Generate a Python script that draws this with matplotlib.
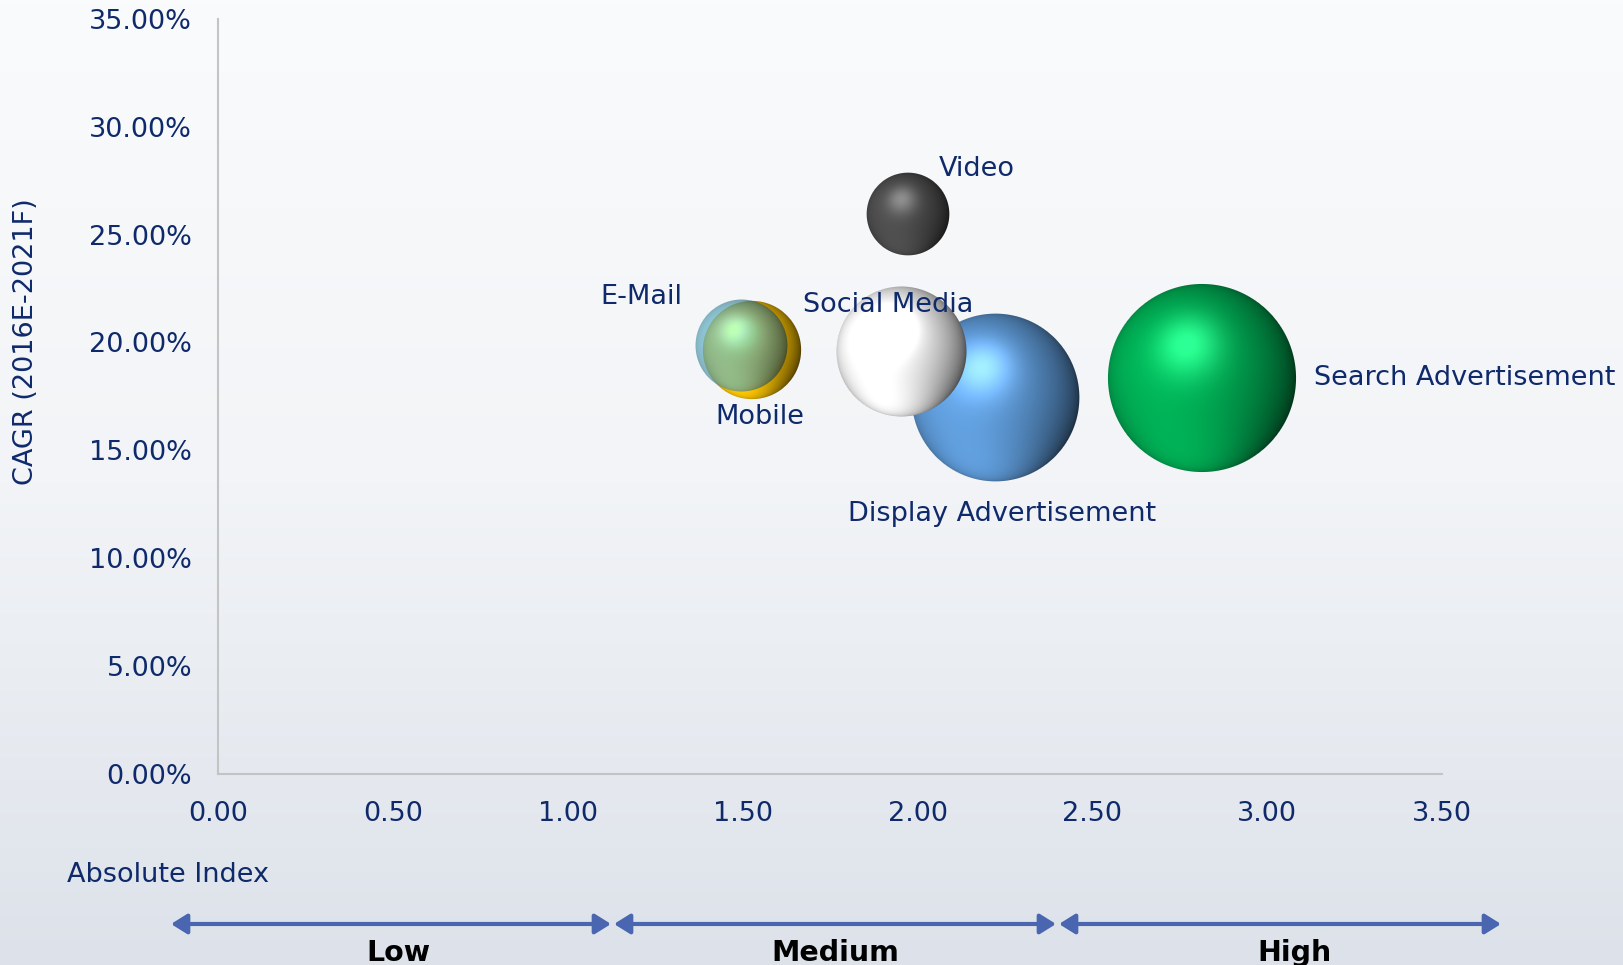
import numpy as np
import matplotlib
matplotlib.use('Agg')
import matplotlib.pyplot as plt
from matplotlib.patches import FancyArrowPatch
from matplotlib.offsetbox import OffsetImage, AnnotationBbox
from matplotlib.colors import to_rgb, LinearSegmentedColormap
from matplotlib.ticker import FuncFormatter

# --- DATA ---
segments = ['Search Advertisement', 'Display Advertisement', 'Social Media',
            'Mobile', 'E-Mail', 'Video']
abs_index = [2.815, 2.223, 1.955, 1.526, 1.495, 1.972]
cagr = [0.1835, 0.1747, 0.1960, 0.1965, 0.1988, 0.2595]
bubble_size = [8.8, 7.0, 4.2, 2.4, 2.1, 1.7]
x_ticks = [0.0, 0.5, 1.0, 1.5, 2.0, 2.5, 3.0, 3.5]
y_ticks = [0.0, 0.05, 0.10, 0.15, 0.20, 0.25, 0.30, 0.35]
bands = ['Low', 'Medium', 'High']

# --- STYLE ---
sphere_colors = ['#00a651', '#5b95d0', '#f2f2f2', '#f7c000', '#58a6bc', '#4a4a4a']
sphere_alpha = [1.0, 1.0, 1.0, 1.0, 0.68, 1.0]
# label offsets in pixels from bubble centre (dx, dy, ha)
label_pos = [(112, 0, 'left'), (7, -117, 'center'), (-14, 46, 'center'),
             (8, -67, 'center'), (-59, 48, 'right'), (31, 45, 'left')]
TEXT = '#0f2a6b'
ARROW = '#4a66b0'
FS = 19.5
PX_PER_SIZE = 31.7


def unit(v):
    v = np.array(v, dtype=float)
    return v / np.linalg.norm(v)


def sphere(color, r, alpha=1.0):
    n = int(2 * r) + 4
    c = (n - 1) / 2
    yy, xx = np.mgrid[0:n, 0:n]
    u = (xx - c) / r
    v = (c - yy) / r
    d = np.sqrt(u ** 2 + v ** 2)
    nz = np.sqrt(np.clip(1 - d ** 2, 0, 1))

    def dot(L):
        return u * L[0] + v * L[1] + nz * L[2]

    L = unit([-0.45, 0.2, 0.87])
    wrap = np.clip((dot(L) + 0.5) / 1.5, 0, 1) ** 1.1
    H = unit([-0.15, 0.36, 0.92])
    spec = np.clip(dot(H), 0, 1) ** 16
    L2 = unit([-0.1, -0.9, 0.3])
    rim = np.clip(dot(L2), 0, 1) ** 4

    base = np.array(to_rgb(color))
    shade = 0.27 + 0.85 * wrap + 0.35 * rim
    rgb = base * shade[..., None] + 0.4 * spec[..., None] * (0.45 + 0.55 * base)
    rgb = np.clip(rgb, 0, 1)
    a = np.clip((1 - d) * r + 0.5, 0, 1) * alpha
    return np.dstack([rgb, a])


fig = plt.figure(figsize=(16.23, 9.65), dpi=100)

# background gradient
bg = fig.add_axes([0, 0, 1, 1], zorder=-1)
grad = np.linspace(0, 1, 256).reshape(-1, 1)
bg_cmap = LinearSegmentedColormap.from_list('bg', ['#fafbfc', '#f2f4f7', '#dde2ea'])
bg.imshow(grad, aspect='auto', cmap=bg_cmap, extent=[0, 1, 0, 1], origin='upper')
bg.axis('off')

ax = fig.add_axes([0.1346, 0.1977, 0.7538, 0.7830])
ax.set_facecolor('none')
ax.set_xlim(0, 3.5)
ax.set_ylim(0, 0.35)
ax.set_xticks(x_ticks)
ax.set_yticks(y_ticks)
ax.xaxis.set_major_formatter(FuncFormatter(lambda v, p: f'{v:.2f}'))
ax.yaxis.set_major_formatter(FuncFormatter(lambda v, p: f'{v * 100:.2f}%'))
ax.tick_params(length=0, labelsize=FS, labelcolor=TEXT)
ax.tick_params(axis='x', pad=19)
ax.tick_params(axis='y', pad=19)
for s in ['top', 'right']:
    ax.spines[s].set_visible(False)
for s in ['left', 'bottom']:
    ax.spines[s].set_color('#c4c4c4')
    ax.spines[s].set_linewidth(1.5)

for i, name in enumerate(segments):
    r = PX_PER_SIZE * np.sqrt(bubble_size[i])
    img = sphere(sphere_colors[i], r, sphere_alpha[i])
    ab = AnnotationBbox(OffsetImage(img, zoom=1, dpi_cor=False),
                        (abs_index[i], cagr[i]), frameon=False, pad=0,
                        box_alignment=(0.5, 0.5), zorder=3 + i)
    ax.add_artist(ab)
    dx, dy, ha = label_pos[i]
    ax.annotate(name, (abs_index[i], cagr[i]), xytext=(dx, dy),
                textcoords='offset pixels', ha=ha, va='center',
                fontsize=FS, color=TEXT, zorder=20)

fig.text(0.016, 0.646, 'CAGR (2016E-2021F)', rotation=90, ha='center', va='center',
         fontsize=FS, color=TEXT)
fig.text(0.0413, 0.0933, 'Absolute Index', ha='left', va='center',
         fontsize=FS, color=TEXT)

# Low / Medium / High arrows
band_edges = [(171, 611), (614, 1056), (1059, 1501)]
band_centres = [398, 835, 1294]
for name, (x0, x1), xc in zip(bands, band_edges, band_centres):
    fig.add_artist(FancyArrowPatch(
        (x0 / 1623, 0.0425), (x1 / 1623, 0.0425), transform=fig.transFigure,
        arrowstyle='<|-|>,head_length=0.8,head_width=0.5', mutation_scale=12,
        color=ARROW, lw=3, shrinkA=0, shrinkB=0))
    fig.text(xc / 1623, 1 - 939 / 965, name, ha='center', va='top',
             fontsize=20.5, fontweight='bold', color='black')

fig.savefig('out.png', dpi=100)
